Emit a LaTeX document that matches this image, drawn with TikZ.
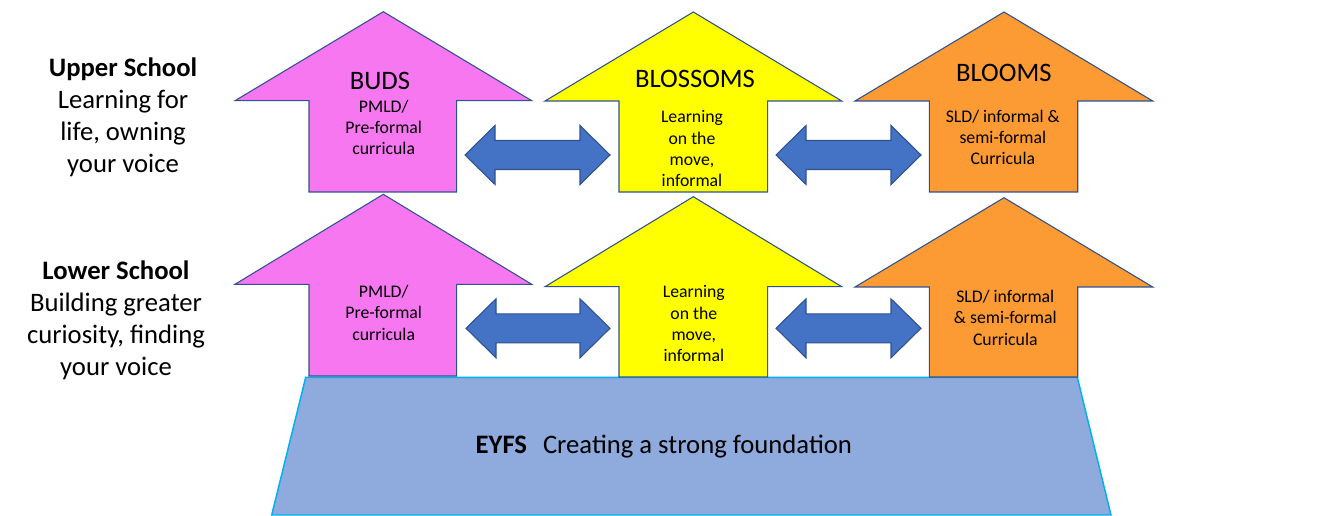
\documentclass[tikz,border=0pt]{standalone}
\usepackage{fontspec}
\setmainfont{Carlito}
\usepackage{tikz}

\begin{document}
\begin{tikzpicture}[x=0.75pt,y=0.75pt,yscale=-1,xscale=1,
    outline/.style={draw={rgb,255:red,47;green,82;blue,143},line width=0.8pt,line join=miter},
    budsarrow/.style={outline,fill={rgb,255:red,247;green,119;blue,241}},
    blossomsarrow/.style={outline,fill={rgb,255:red,255;green,255;blue,0}},
    bloomsarrow/.style={outline,fill={rgb,255:red,252;green,154;blue,52}},
    linkarrow/.style={outline,fill={rgb,255:red,68;green,114;blue,196}},
    basebox/.style={draw={rgb,255:red,0;green,176;blue,240},line width=1.1pt,fill={rgb,255:red,143;green,170;blue,220}},
    bigtext/.style={font=\fontsize{20}{24}\selectfont,align=center,anchor=base,inner sep=0pt},
    smalltext/.style={font=\fontsize{13.3}{16}\selectfont,align=center,anchor=base,inner sep=0pt}]
      \useasboundingbox (0,0) rectangle (1326,516);
      % foundation
      \draw [basebox] (305.7,377.3) -- (1077.3,377.3) -- (1111,515) -- (271.7,515) -- cycle;
      % upper row
      \draw [budsarrow] (383.3,11.7) -- (531.7,100.7) -- (456.7,100.7) -- (456.7,192) -- (309,192) -- (309,100.7) -- (235,100.7) -- cycle;
      \draw [blossomsarrow] (693.3,12) -- (841.7,101) -- (767.7,101) -- (767.7,192) -- (619,192) -- (619,101) -- (545,101) -- cycle;
      \draw [bloomsarrow] (1004,12) -- (1152.7,101) -- (1077.7,101) -- (1077.7,192) -- (929.3,192) -- (929.3,101) -- (855,101) -- cycle;
      % lower row
      \draw [budsarrow] (383.3,194.3) -- (531.7,284.3) -- (456.7,284.3) -- (456.7,376) -- (309,376) -- (309,284.3) -- (235,284.3) -- cycle;
      \draw [blossomsarrow] (693.3,196.7) -- (841.7,286.7) -- (767.7,286.7) -- (767.7,377) -- (619,377) -- (619,286.7) -- (545,286.7) -- cycle;
      \draw [bloomsarrow] (1004,197.7) -- (1152.7,287) -- (1077.7,287) -- (1077.7,377) -- (929.3,377) -- (929.3,287) -- (855,287) -- cycle;
      % links between the arrows
      \draw [linkarrow] (465,155) -- (495,125.5) -- (495,140.5) -- (580,140.5) -- (580,125.5) -- (610,155) -- (580,184.5) -- (580,169.5) -- (495,169.5) -- (495,184.5) -- cycle;
      \draw [linkarrow] (776,155) -- (806,125.5) -- (806,140.5) -- (891,140.5) -- (891,125.5) -- (921,155) -- (891,184.5) -- (891,169.5) -- (806,169.5) -- (806,184.5) -- cycle;
      \draw [linkarrow] (466,328.3) -- (496,298.8) -- (496,313.8) -- (580,313.8) -- (580,298.8) -- (610,328.3) -- (580,357.8) -- (580,342.8) -- (496,342.8) -- (496,357.8) -- cycle;
      \draw [linkarrow] (776,328.3) -- (806,298.8) -- (806,313.8) -- (891,313.8) -- (891,298.8) -- (921,328.3) -- (891,357.8) -- (891,342.8) -- (806,342.8) -- (806,357.8) -- cycle;
      % school labels (base = last line)
      \node (upperlbl) at (123,173) [bigtext] {\textbf{Upper School}\\Learning for\\life, owning\\your voice};
      \node (lowerlbl) at (116,375) [bigtext] {\textbf{Lower School}\\Building greater\\curiosity, finding\\your voice};
      % upper arrow texts
      \node (budstitle) at (380,90) [bigtext] {BUDS};
      \node (budsup) at (383.7,155) [smalltext] {PMLD/\\Pre-formal\\curricula};
      \node (blossomstitle) at (695,87.3) [bigtext] {BLOSSOMS};
      \node (blossomsup) at (692,186.7) [smalltext] {Learning\\on the\\move,\\informal};
      \node (bloomstitle) at (1003.8,81.7) [bigtext] {BLOOMS};
      \node (bloomsup) at (1002.8,165) [smalltext] {SLD/ informal \&\\semi-formal\\Curricula};
      % lower arrow texts
      \node (budslow) at (383.7,340) [smalltext] {PMLD/\\Pre-formal\\curricula};
      \node (blossomslow) at (693.8,361.7) [smalltext] {Learning\\on the\\move,\\informal};
      \node (bloomslow) at (1005.3,345) [smalltext] {SLD/ informal\\\& semi-formal\\Curricula};
      % foundation text
      \node (eyfs) at (663.8,453.3) [bigtext] {\textbf{EYFS}\hspace{0.6em}Creating a strong foundation};
    \end{tikzpicture}
\end{document}
